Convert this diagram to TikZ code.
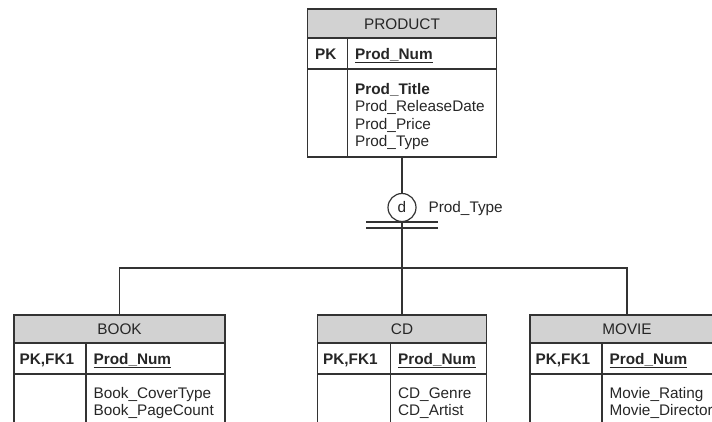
\documentclass[tikz,border=0pt]{standalone}
\usepackage{fontspec}
\setmainfont{Liberation Sans}

\begin{document}
\begin{tikzpicture}[x=0.75pt,y=-0.75pt,line width=0.9pt,color=black!80,
  every node/.style={text=black!85,font=\fontsize{11.5}{13}\selectfont},
  frame/.style={draw,rectangle,inner sep=0pt},
  hdr/.style={fill=gray!35},
  ttl/.style={anchor=base,inner sep=0pt},
  txt/.style={anchor=base west,inner sep=0pt,align=left}]

\useasboundingbox (0,0) rectangle (712,421);
\clip (0,0) rectangle (712,421);

% PRODUCT
\fill[hdr] (307.5,9) rectangle (496.5,38);
\node[frame, minimum width=141.75pt, minimum height=111pt] (product) at (402,83) {};
\draw (307.5,38) -- (496.5,38);
\draw (307.5,69) -- (496.5,69);
\draw (347.5,38) -- (347.5,157);
\node[ttl] (v1) at (402,29) {PRODUCT};
\node[txt] (v1k) at (314.5,59) {\textbf{PK}};
\node[txt] (v1p) at (354.5,59) {\underline{\textbf{Prod\_Num}}};
% base = last line
\node[txt] (v1a) at (354.5,146.5) {\textbf{Prod\_Title}\\Prod\_ReleaseDate\\Prod\_Price\\Prod\_Type};

% subtype symbol
\node[draw, circle, minimum size=21pt, inner sep=0pt] (d) at (402,207.5) {d};
\node[txt] (dl) at (428,212.5) {Prod\_Type};
\draw (366,222) -- (438,222);
\draw (366,228) -- (438,228);
\coordinate (j) at (402,268);

% BOOK
\fill[hdr] (14,315) rectangle (225,343);
\node[frame, minimum width=158.25pt, minimum height=93.75pt] (book) at (119.5,377.5) {};
\draw (14,343) -- (225,343);
\draw (14,374) -- (225,374);
\draw (86,343) -- (86,440);
\node[ttl] (v2) at (119.5,334.5) {BOOK};
\node[txt] (v2k) at (19,364) {\textbf{PK,FK1}};
\node[txt] (v2p) at (93,364) {\underline{\textbf{Prod\_Num}}};
\node[txt] (v2a) at (93,415.5) {Book\_CoverType\\Book\_PageCount};

% CD
\fill[hdr] (317.5,315) rectangle (486.5,343);
\node[frame, minimum width=126.75pt, minimum height=93.75pt] (cd) at (402,377.5) {};
\draw (317.5,343) -- (486.5,343);
\draw (317.5,374) -- (486.5,374);
\draw (390.5,343) -- (390.5,440);
\node[ttl] (v3) at (402,334.5) {CD};
\node[txt] (v3k) at (322.5,364) {\textbf{PK,FK1}};
\node[txt] (v3p) at (397.5,364) {\underline{\textbf{Prod\_Num}}};
\node[txt] (v3a) at (397.5,415.5) {CD\_Genre\\CD\_Artist};

% MOVIE
\fill[hdr] (530,315) rectangle (724,343);
\node[frame, minimum width=145.5pt, minimum height=93.75pt] (movie) at (627,377.5) {};
\draw (530,343) -- (724,343);
\draw (530,374) -- (724,374);
\draw (602,343) -- (602,440);
\node[ttl] (v4) at (627,334.5) {MOVIE};
\node[txt] (v4k) at (535,364) {\textbf{PK,FK1}};
\node[txt] (v4p) at (609,364) {\underline{\textbf{Prod\_Num}}};
\node[txt] (v4a) at (609,415.5) {Movie\_Rating\\Movie\_Director};

% connectors
\draw (product.south) -- (d.north);
\draw (d.south) -- (j);
\draw (j) -| (book.north);
\draw (j) -- (cd.north);
\draw (j) -| (movie.north);

\end{tikzpicture}
\end{document}
